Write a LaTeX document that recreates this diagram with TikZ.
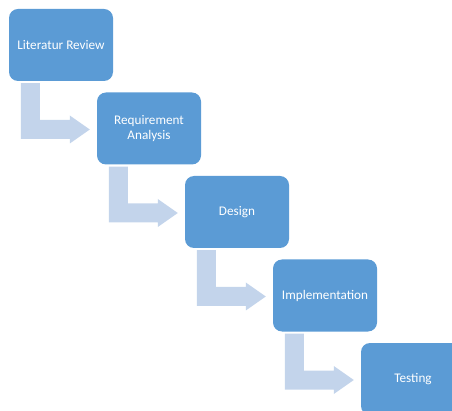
\documentclass[tikz,border=0pt]{standalone}
\usepackage{fontspec}
\setmainfont{Carlito}
\usetikzlibrary{calc}
\definecolor{boxblue}{HTML}{5B9BD5}
\definecolor{arrowblue}{HTML}{C3D4EB}
\tikzset{
  stepbox/.style={rectangle, rounded corners=9pt, fill=boxblue, text=white,
    minimum width=104pt, minimum height=72pt, align=center, inner sep=2pt,
    font=\fontsize{13.2}{15.5}\selectfont},
  bentarrow/.style={fill=arrowblue}
}
\newcommand{\bentarrow}[2]{%
  \fill[bentarrow] let \p1=(#1.south west), \p2=(#2.west) in
    (\x1+12pt,\y1-2pt) -- (\x1+31pt,\y1-2pt) -- (\x1+31pt,\y2+8.5pt)
    -- (\x2-27pt,\y2+8.5pt) -- (\x2-27pt,\y2+13pt) -- (\x2-7pt,\y2-1pt)
    -- (\x2-27pt,\y2-15pt) -- (\x2-27pt,\y2-10.5pt) -- (\x1+12pt,\y2-10.5pt) -- cycle;}
\begin{document}
\begin{tikzpicture}[x=1pt,y=-1pt]
\useasboundingbox (0,0) rectangle (452,411);
\clip (0,0) rectangle (452,411);
\node[stepbox] (lit) at (61,45) {Literatur Review};
\node[stepbox] (req) at (149,128.5) {Requirement\\Analysis};
\node[stepbox] (des) at (237,212) {Design};
\node[stepbox] (imp) at (325,295.5) {Implementation};
\node[stepbox] (tes) at (413,379) {Testing};
\bentarrow{lit}{req}
\bentarrow{req}{des}
\bentarrow{des}{imp}
\bentarrow{imp}{tes}
\end{tikzpicture}
\end{document}
